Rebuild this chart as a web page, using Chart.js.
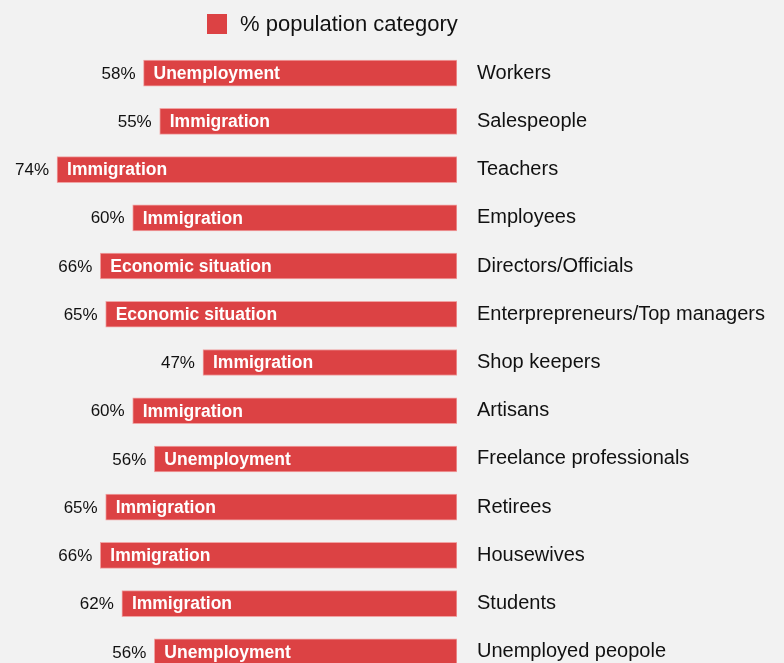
<!DOCTYPE html>
<html>
<head>
<meta charset="utf-8">
<script src="https://cdn.jsdelivr.net/npm/chart.js@4"></script>
<style>
    html, body { margin: 0; padding: 0; background: #f2f2f2; overflow: hidden; }
    #wrap { width: 784px; height: 708px; }
</style>
</head>
<body>
<div id="wrap"><canvas id="topicChart" width="784" height="708"></canvas></div>
<script>
// population categories (right side labels)
const categories = ['Workers', 'Salespeople', 'Teachers', 'Employees', 'Directors/Officials',
    'Enterprepreneurs/Top managers', 'Shop keepers', 'Artisans', 'Freelance professionals',
    'Retirees', 'Housewives', 'Students', 'Unemployed peopole'];
// % of each category naming the topic
const values = [58, 55, 74, 60, 66, 65, 47, 60, 56, 65, 66, 62, 56];
// top topic written inside each bar
const topics = ['Unemployment', 'Immigration', 'Immigration', 'Immigration', 'Economic situation',
    'Economic situation', 'Immigration', 'Immigration', 'Unemployment', 'Immigration',
    'Immigration', 'Immigration', 'Unemployment'];
const seriesLabel = '% population category';

const barColor = '#dc4244';
const fontFamily = '"Liberation Sans", Arial, sans-serif';

const barLabels = {
    id: 'barLabels',
    afterDatasetsDraw(chart) {
        const ctx = chart.ctx;
        const meta = chart.getDatasetMeta(0);
        ctx.save();
        ctx.textBaseline = 'middle';
        meta.data.forEach((bar, i) => {
            ctx.fillStyle = '#111';
            ctx.font = '17px ' + fontFamily;
            ctx.textAlign = 'right';
            ctx.fillText(values[i] + '%', bar.x - 8, bar.y + 1);
            ctx.fillStyle = '#fff';
            ctx.font = 'bold 17.5px ' + fontFamily;
            ctx.textAlign = 'left';
            ctx.fillText(topics[i], bar.x + 10, bar.y + 1);
        });
        ctx.restore();
    },
    afterDraw(chart) {
        // legend above the bars
        const ctx = chart.ctx;
        ctx.save();
        ctx.fillStyle = barColor;
        ctx.fillRect(207, 14, 20, 20);
        ctx.fillStyle = '#111';
        ctx.font = '22px ' + fontFamily;
        ctx.textAlign = 'left';
        ctx.textBaseline = 'middle';
        ctx.fillText(seriesLabel, 240, 25);
        ctx.restore();
    }
};

new Chart(document.getElementById('topicChart'), {
    type: 'bar',
    data: {
        labels: categories,
        datasets: [{
            label: seriesLabel,
            data: values,
            backgroundColor: barColor,
            borderColor: '#f0a4a4',
            borderWidth: 1,
            borderSkipped: false,
            barThickness: 26
        }]
    },
    options: {
        indexAxis: 'y',
        responsive: false,
        animation: false,
        layout: { padding: { top: 49, left: 0, right: 0, bottom: 0 } },
        plugins: {
            legend: { display: false },
            tooltip: { enabled: false }
        },
        scales: {
            x: {
                display: false,
                reverse: true,
                min: 0,
                max: 84.55
            },
            y: {
                position: 'right',
                grid: { display: false, drawTicks: false },
                border: { display: false },
                ticks: {
                    color: '#111',
                    padding: 20,
                    font: { size: 20, family: fontFamily }
                },
                afterFit: (scale) => { scale.width = 327; }
            }
        }
    },
    plugins: [barLabels]
});
</script>
</body>
</html>
